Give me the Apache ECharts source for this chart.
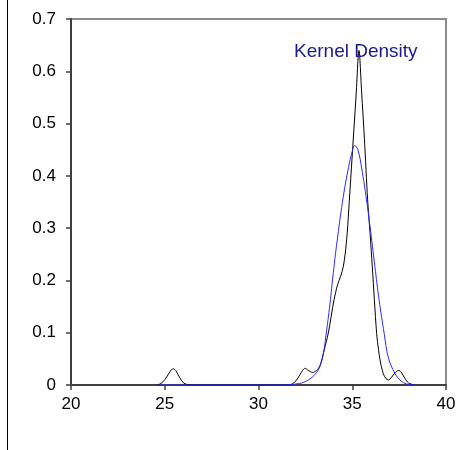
<!DOCTYPE html>
<html>
<head>
<meta charset="utf-8">
<script src="https://cdn.jsdelivr.net/npm/echarts@6/dist/echarts.min.js"></script>
<style>
html,body{margin:0;padding:0;background:#fff;}
#chart{width:469px;height:450px;}
</style>
</head>
<body>
<div id="chart"></div>
<script>
var titleText = 'Kernel Density';
var xTicks = [20, 25, 30, 35, 40];
var yTicks = [0, 0.1, 0.2, 0.3, 0.4, 0.5, 0.6, 0.7];

var blackX = [24.6, 24.8, 25.0, 25.2, 25.35, 25.46, 25.6, 25.8, 26.0, 26.2, 26.4,
  31.6, 31.8, 32.0, 32.2, 32.35, 32.48, 32.65, 32.89, 33.1, 33.28, 33.49, 33.72, 34.03,
  34.22, 34.38, 34.52, 34.62, 34.73, 34.84, 35.0, 35.2, 35.36, 35.5, 35.65, 35.82, 35.95,
  36.07, 36.18, 36.3, 36.4, 36.48, 36.65, 36.8, 36.93, 37.1, 37.3, 37.46, 37.6, 37.8, 38.0, 38.3];
var blackY = [0, 0.003, 0.010, 0.021, 0.029, 0.031, 0.027, 0.014, 0.004, 0.001, 0,
  0, 0.002, 0.008, 0.019, 0.028, 0.032, 0.028, 0.024, 0.028, 0.037, 0.065, 0.099, 0.163,
  0.192, 0.208, 0.226, 0.250, 0.290, 0.351, 0.440, 0.551, 0.640, 0.560, 0.470, 0.354, 0.290,
  0.226, 0.163, 0.099, 0.068, 0.048, 0.022, 0.012, 0.0096, 0.015, 0.024, 0.028, 0.025, 0.013, 0.004, 0];

var blueX = [24.6, 31.5, 32.0, 32.4, 32.8, 33.1, 33.28, 33.46, 33.6, 33.81, 33.99, 34.22,
  34.52, 34.8, 35.0, 35.13, 35.3, 35.5, 35.76, 35.95, 36.21, 36.43, 36.7, 36.93, 37.28,
  37.6, 37.9, 38.35];
var blueY = [0, 0, 0.002, 0.005, 0.013, 0.024, 0.036, 0.060, 0.095, 0.155, 0.215, 0.283,
  0.360, 0.416, 0.447, 0.458, 0.450, 0.415, 0.354, 0.303, 0.226, 0.163, 0.099, 0.052, 0.022,
  0.008, 0.002, 0];

function zip(xs, ys) { return xs.map(function (x, i) { return [x, ys[i]]; }); }

var chart = echarts.init(document.getElementById('chart'), null, {renderer: 'canvas'});
var font = '"Liberation Sans", Arial, sans-serif';
chart.setOption({
  animation: false,
  backgroundColor: '#fff',
  title: {
    text: titleText, left: 289, top: 37,
    textStyle: {color: '#1a1a8c', fontSize: 19, fontWeight: 'normal', fontFamily: font}
  },
  grid: {left: 71, right: 23, top: 19, bottom: 65, show: true, borderColor: '#8c8c8c', borderWidth: 2, backgroundColor: 'transparent'},
  xAxis: {
    type: 'value', min: xTicks[0], max: xTicks[xTicks.length - 1], interval: 5,
    axisLine: {show: true, onZero: false, lineStyle: {color: '#404040', width: 2}},
    axisTick: {show: true, inside: false, length: 5, lineStyle: {color: '#404040', width: 1.5}},
    axisLabel: {color: '#000', fontSize: 17, fontFamily: font, margin: 11},
    splitLine: {show: false}
  },
  yAxis: {
    type: 'value', min: yTicks[0], max: yTicks[yTicks.length - 1], interval: 0.1,
    axisLine: {show: true, lineStyle: {color: '#404040', width: 2}},
    axisTick: {show: true, inside: false, length: 5, lineStyle: {color: '#404040', width: 1.5}},
    axisLabel: {color: '#000', fontSize: 17, fontFamily: font, margin: 15},
    splitLine: {show: false}
  },
  graphic: [{
    type: 'line', shape: {x1: 7.5, y1: 0, x2: 7.5, y2: 450},
    style: {stroke: '#000', lineWidth: 1}
  }],
  series: [{
    type: 'line', data: zip(blackX, blackY), smooth: 0.3, symbol: 'none',
    lineStyle: {color: '#000', width: 1}, z: 3
  }, {
    type: 'line', data: zip(blueX, blueY), smooth: 0.4, symbol: 'none',
    lineStyle: {color: '#2a2aff', width: 1}, z: 4
  }]
});
</script>
</body>
</html>
